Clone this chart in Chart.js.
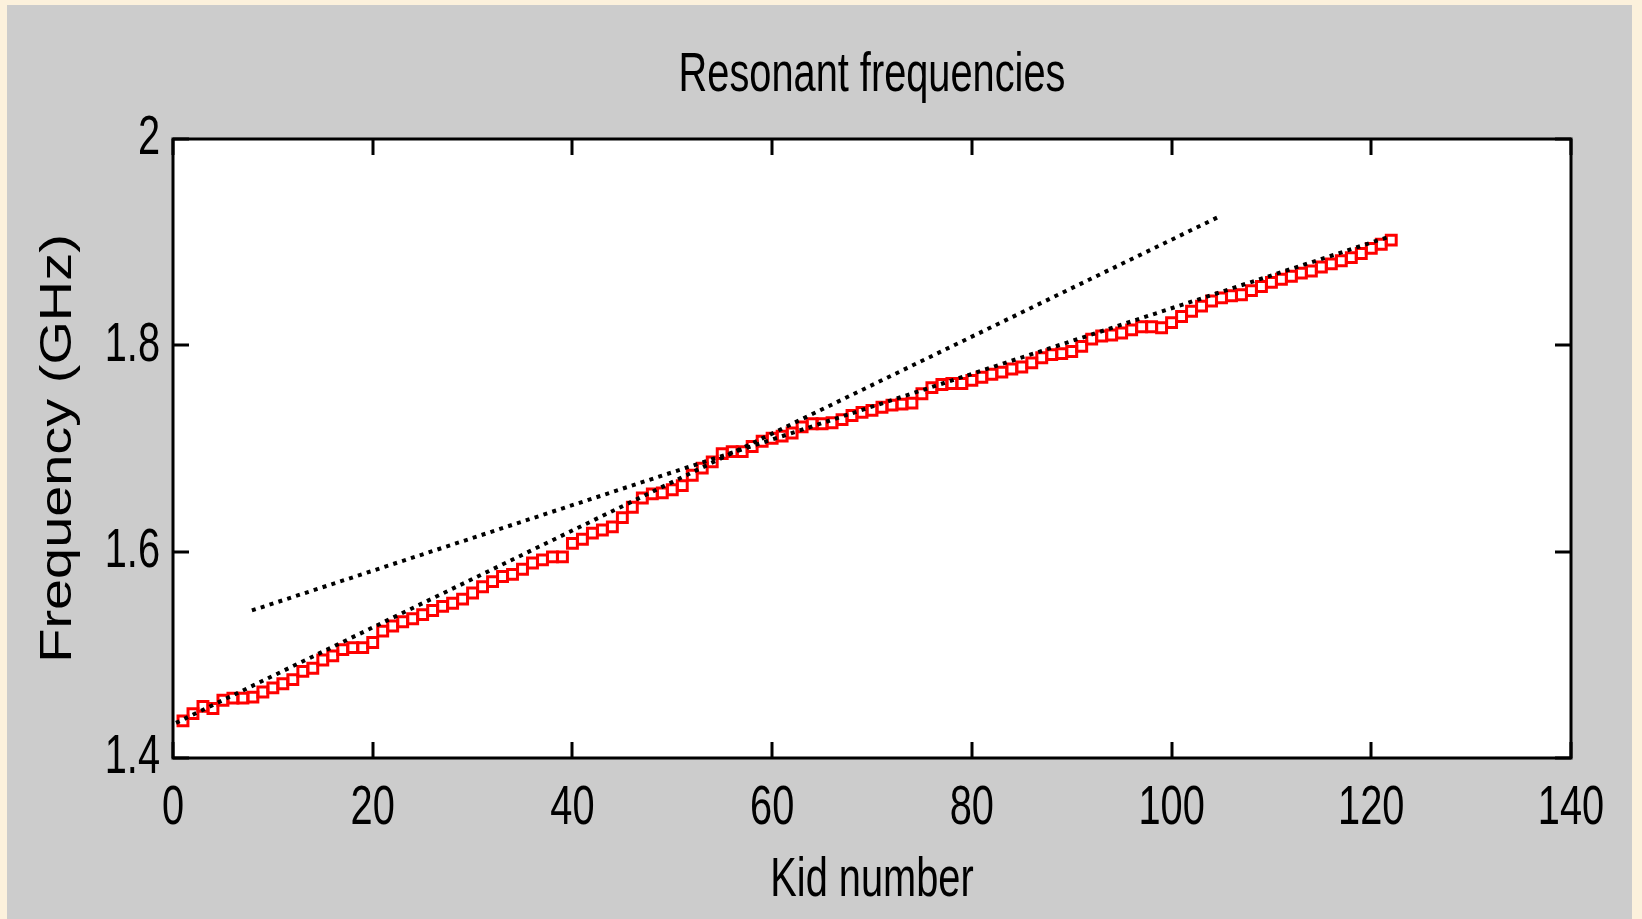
<!DOCTYPE html>
<html>
<head>
<meta charset="utf-8">
<title>Resonant frequencies</title>
<script src="https://cdn.jsdelivr.net/npm/chart.js@4"></script>
<style>
  html, body { margin: 0; padding: 0; background: #fcf1dc; }
  #wrap { width: 1642px; height: 919px; }
</style>
</head>
<body>
<div id="wrap"><canvas id="chart" width="1642" height="919"></canvas></div>
<script>
// kid index and measured resonant frequency (GHz)
const kidNumbers = [
    1, 2, 3, 4, 5, 6, 7, 8, 9, 10, 11, 12, 13, 14, 15, 16, 17, 18, 19, 20,
    21, 22, 23, 24, 25, 26, 27, 28, 29, 30, 31, 32, 33, 34, 35, 36, 37, 38, 39, 40,
    41, 42, 43, 44, 45, 46, 47, 48, 49, 50, 51, 52, 53, 54, 55, 56, 57, 58, 59, 60,
    61, 62, 63, 64, 65, 66, 67, 68, 69, 70, 71, 72, 73, 74, 75, 76, 77, 78, 79, 80,
    81, 82, 83, 84, 85, 86, 87, 88, 89, 90, 91, 92, 93, 94, 95, 96, 97, 98, 99, 100,
    101, 102, 103, 104, 105, 106, 107, 108, 109, 110, 111, 112, 113, 114, 115, 116, 117, 118, 119, 120,
    121, 122,
];
const frequencies = [
    1.436, 1.443, 1.450, 1.448, 1.456, 1.458, 1.458, 1.459, 1.464, 1.468,
    1.472, 1.476, 1.484, 1.487, 1.495, 1.499, 1.505, 1.507, 1.507, 1.512,
    1.523, 1.528, 1.532, 1.535, 1.539, 1.543, 1.547, 1.550, 1.554, 1.560,
    1.566, 1.571, 1.576, 1.578, 1.583, 1.589, 1.592, 1.595, 1.595, 1.608,
    1.612, 1.618, 1.621, 1.624, 1.633, 1.643, 1.652, 1.656, 1.657, 1.660,
    1.664, 1.674, 1.681, 1.687, 1.695, 1.697, 1.697, 1.702, 1.707, 1.710,
    1.712, 1.715, 1.721, 1.724, 1.724, 1.725, 1.728, 1.732, 1.735, 1.737,
    1.740, 1.742, 1.743, 1.744, 1.753, 1.759, 1.762, 1.763, 1.763, 1.766,
    1.769, 1.772, 1.774, 1.777, 1.779, 1.783, 1.788, 1.791, 1.792, 1.794,
    1.799, 1.806, 1.809, 1.810, 1.812, 1.815, 1.818, 1.818, 1.817, 1.822,
    1.828, 1.833, 1.838, 1.843, 1.846, 1.848, 1.849, 1.853, 1.857, 1.861,
    1.864, 1.867, 1.870, 1.872, 1.876, 1.879, 1.882, 1.885, 1.889, 1.894,
    1.898, 1.902,
];

// the two dotted guide lines (end points)
const fitShallowX = [7.9, 121.7];
const fitShallowY = [1.543, 1.905];
const fitSteepX = [0.3, 104.6];
const fitSteepY = [1.434, 1.924];

const xTicks = [0, 20, 40, 60, 80, 100, 120, 140];
const yTicks = [1.4, 1.6, 1.8, 2];

const FONT = "'Liberation Sans', Arial, sans-serif";

// the original figure uses a tall, squeezed bitmap font; the rotated y label is stretched instead
const SQUEEZE = 0.71;
const textStretch = { "Frequency (GHz)": 1.27 };

function pairs(xs, ys) {
    return xs.map((x, i) => ({ x, y: ys[i] }));
}

const squeezePlugin = {
    id: "squeeze",
    beforeInit(chart) {
        const ctx = chart.ctx;
        const fill = ctx.fillText.bind(ctx);
        ctx.fillText = (text, x, y) => {
            const sx = textStretch[text] ?? SQUEEZE;
            ctx.save();
            ctx.translate(x, y);
            ctx.scale(sx, 1);
            fill(text, 0, 0);
            ctx.restore();
        };
    },
};

// grey figure, white axes box, black frame with inward ticks on every side
const framePlugin = {
    id: "frame",
    beforeDraw(chart) {
        const { ctx, chartArea: a, width, height } = chart;
        ctx.save();
        ctx.fillStyle = "#fcf1dc";
        ctx.fillRect(0, 0, width, height);
        ctx.fillStyle = "#cccccc";
        ctx.fillRect(7, 5, width - 17, height - 5);
        ctx.fillStyle = "#ffffff";
        ctx.fillRect(a.left, a.top, a.width, a.height);
        ctx.restore();
    },
    afterDatasetsDraw(chart) {
        const { ctx, chartArea: a, scales } = chart;
        const len = 16;
        ctx.save();
        ctx.strokeStyle = "#000";
        ctx.lineWidth = 3;
        ctx.beginPath();
        scales.x.ticks.forEach((t) => {
            const px = Math.round(scales.x.getPixelForValue(t.value));
            ctx.moveTo(px, a.bottom); ctx.lineTo(px, a.bottom - len);
            ctx.moveTo(px, a.top); ctx.lineTo(px, a.top + len);
        });
        scales.y.ticks.forEach((t) => {
            const py = Math.round(scales.y.getPixelForValue(t.value));
            ctx.moveTo(a.left, py); ctx.lineTo(a.left + len, py);
            ctx.moveTo(a.right, py); ctx.lineTo(a.right - len, py);
        });
        ctx.stroke();
        ctx.strokeRect(a.left, a.top, a.width, a.height);
        ctx.restore();
    },
};

const dotted = {
    type: "line",
    showLine: true,
    borderColor: "#000",
    borderWidth: 4,
    borderDash: [4, 5.3],
    borderCapStyle: "butt",
    pointRadius: 0,
    fill: false,
    order: 1,
};

new Chart(document.getElementById("chart"), {
    type: "scatter",
    data: {
        datasets: [
            {
                label: "Measured",
                data: pairs(kidNumbers, frequencies),
                pointStyle: "rect",
                pointRadius: 7,
                pointBorderWidth: 3,
                pointBorderColor: "#ff0000",
                pointBackgroundColor: "rgba(0,0,0,0)",
                pointHoverRadius: 7,
                order: 2,
            },
            { ...dotted, label: "Fit A", data: pairs(fitShallowX, fitShallowY) },
            { ...dotted, label: "Fit B", data: pairs(fitSteepX, fitSteepY) },
        ],
    },
    options: {
        responsive: false,
        devicePixelRatio: 1,
        animation: false,
        layout: { padding: { left: 0, right: 71, top: 0, bottom: 0 } },
        plugins: {
            legend: { display: false },
            tooltip: { enabled: false },
        },
        scales: {
            // top axis only carries the figure title, centred over the axes box
            top: {
                type: "linear",
                position: "top",
                min: 0,
                max: 140,
                afterFit(s) { s.height = 139; },
                grid: { display: false, drawTicks: false },
                border: { display: false },
                ticks: { display: false },
                title: {
                    display: true,
                    text: "Resonant frequencies",
                    color: "#000",
                    font: { family: FONT, size: 56, weight: "normal" },
                    padding: { top: 41.5, bottom: 0 },
                },
            },
            x: {
                type: "linear",
                position: "bottom",
                min: 0,
                max: 140,
                afterFit(s) { s.height = 161; },
                afterBuildTicks(s) { s.ticks = xTicks.map((v) => ({ value: v })); },
                grid: { display: false, drawTicks: false },
                border: { display: false },
                ticks: {
                    color: "#000",
                    padding: 16.5,
                    maxRotation: 0,
                    autoSkip: false,
                    font: { family: FONT, size: 56 },
                    callback: (v) => String(v),
                },
                title: {
                    display: true,
                    text: "Kid number",
                    color: "#000",
                    font: { family: FONT, size: 56, weight: "normal" },
                    padding: { top: 0, bottom: 5 },
                },
            },
            y: {
                type: "linear",
                min: 1.4,
                max: 2,
                afterFit(s) { s.width = 173; },
                afterBuildTicks(s) { s.ticks = yTicks.map((v) => ({ value: v })); },
                grid: { display: false, drawTicks: false },
                border: { display: false },
                ticks: {
                    color: "#000",
                    padding: 13,
                    font: { family: FONT, size: 56 },
                    callback: (v) => String(+v.toFixed(1)),
                },
                title: {
                    display: true,
                    text: "Frequency (GHz)",
                    color: "#000",
                    font: { family: FONT, size: 44, weight: "normal" },
                    padding: { top: 32, bottom: 0 },
                },
            },
        },
    },
    plugins: [squeezePlugin, framePlugin],
});
</script>
</body>
</html>
